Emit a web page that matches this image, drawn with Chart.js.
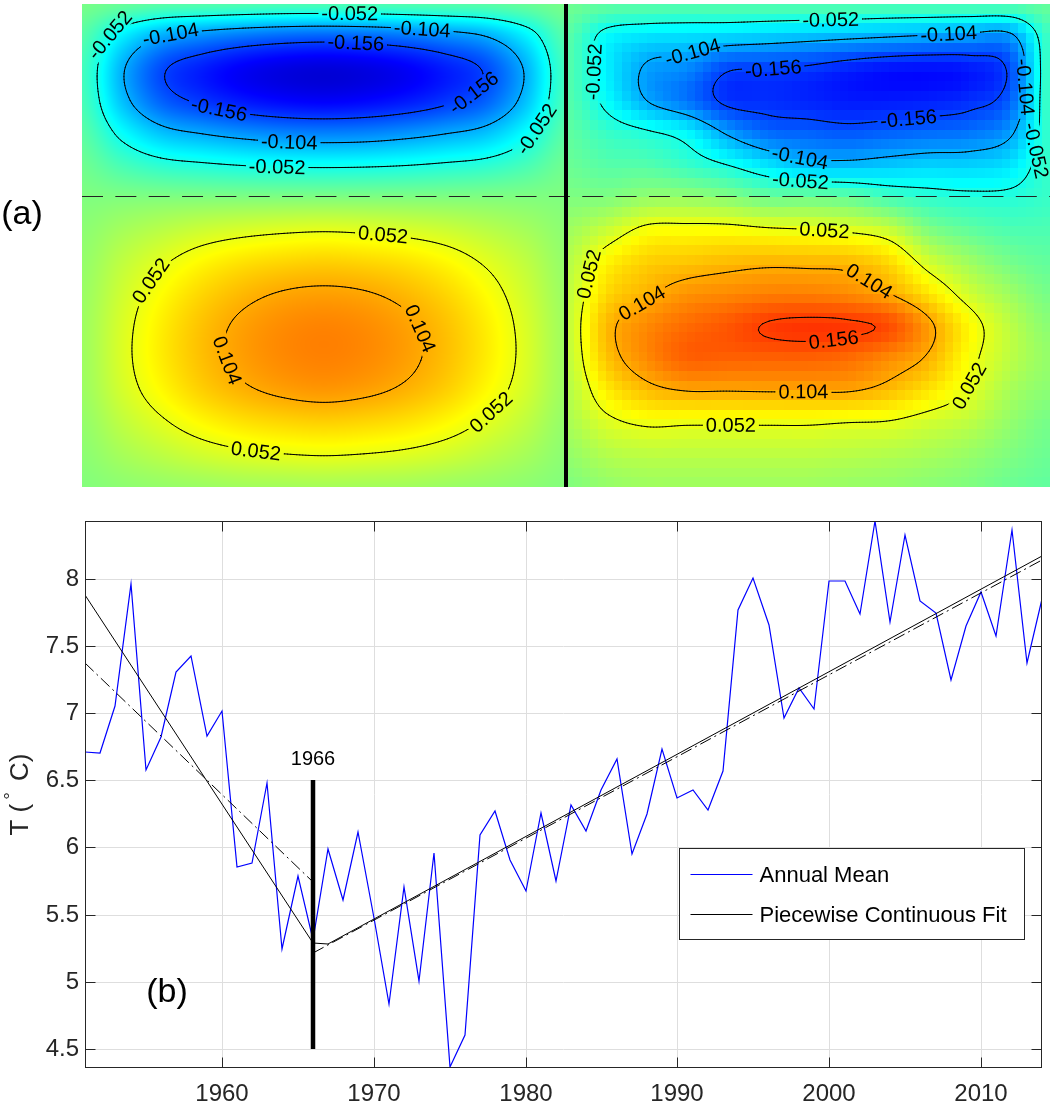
<!DOCTYPE html>
<html>
<head>
<meta charset="utf-8">
<script src="https://cdn.jsdelivr.net/npm/chart.js@4.4.1/dist/chart.umd.min.js"></script>
<style>
  body { margin: 0; background: #fff; width: 1050px; height: 1105px; overflow: hidden; position: relative; }
  #mapBox { position: absolute; left: 0; top: 0; width: 1050px; height: 495px; }
  #tempBox { position: absolute; left: 0; top: 495px; width: 1050px; height: 610px; }
  canvas { display: block; }
</style>
</head>
<body>
<div id="mapBox"><canvas id="mapChart" width="1050" height="495"></canvas></div>
<div id="tempBox"><canvas id="tempChart" width="1050" height="610"></canvas></div>
<script>
// ---- panel (b) data ----
const years = [1951, 1952, 1953, 1954, 1955, 1956, 1957, 1958, 1959, 1960,
  1961, 1962, 1963, 1964, 1965, 1966, 1967, 1968, 1969, 1970,
  1971, 1972, 1973, 1974, 1975, 1976, 1977, 1978, 1979, 1980,
  1981, 1982, 1983, 1984, 1985, 1986, 1987, 1988, 1989, 1990,
  1991, 1992, 1993, 1994, 1995, 1996, 1997, 1998, 1999, 2000,
  2001, 2002, 2003, 2004, 2005, 2006, 2007, 2008, 2009, 2010,
  2011, 2012, 2013, 2014];
const annualMean = [6.71, 6.70, 7.05, 7.96, 6.575, 6.82, 7.305, 7.427, 6.83, 7.013,
  5.854, 5.887, 6.476, 5.245, 5.787, 5.312, 5.986, 5.609, 6.112, 5.473,
  4.836, 5.708, 5.007, 5.956, 4.363, 4.601, 6.092, 6.27, 5.906, 5.676,
  6.258, 5.753, 6.315, 6.122, 6.43, 6.655, 5.949, 6.248, 6.729, 6.365,
  6.427, 6.28, 6.57, 7.764, 8.007, 7.652, 6.966, 7.187, 7.028, 7.979,
  7.984, 7.734, 8.427, 7.675, 8.321, 7.833, 7.747, 7.244, 7.645, 7.90,
  7.571, 8.363, 7.368, 7.851];
const fitYears = [1951, 1966, 1967, 2014];
const fitTemps = [7.88, 5.29, 5.28, 8.17];
const trendLeftYears = [1951, 1966];
const trendLeftTemps = [7.375, 5.74];
const trendRightYears = [1966, 2014];
const trendRightTemps = [5.215, 8.135];
const breakYear = 1966;
const breakTemps = [4.5, 6.5];
const xTickYears = [1960, 1970, 1980, 1990, 2000, 2010];
const yTickTemps = [4.5, 5, 5.5, 6, 6.5, 7, 7.5, 8];

// ---- panel (a) data: field values on a 13 x 16 grid per half ----
const leftField = [
  [-0.004, -0.012, -0.019, -0.021, -0.023, -0.025, -0.025, -0.025, -0.023, -0.021, -0.019, -0.012, -0.004],
  [-0.020, -0.069, -0.104, -0.119, -0.130, -0.137, -0.140, -0.137, -0.130, -0.119, -0.104, -0.069, -0.020],
  [-0.029, -0.100, -0.152, -0.174, -0.191, -0.201, -0.205, -0.201, -0.191, -0.174, -0.152, -0.100, -0.029],
  [-0.027, -0.093, -0.141, -0.162, -0.177, -0.186, -0.190, -0.186, -0.177, -0.162, -0.141, -0.093, -0.027],
  [-0.018, -0.061, -0.093, -0.106, -0.116, -0.123, -0.125, -0.123, -0.116, -0.106, -0.093, -0.061, -0.018],
  [-0.008, -0.028, -0.042, -0.048, -0.053, -0.056, -0.057, -0.056, -0.053, -0.048, -0.042, -0.028, -0.008],
  [0, 0, 0, 0, 0, 0, 0, 0, 0, 0, 0, 0, 0],
  [0.006, 0.018, 0.028, 0.037, 0.043, 0.047, 0.049, 0.047, 0.043, 0.037, 0.028, 0.018, 0.006],
  [0.010, 0.031, 0.049, 0.065, 0.076, 0.082, 0.085, 0.082, 0.076, 0.065, 0.049, 0.031, 0.010],
  [0.013, 0.039, 0.063, 0.083, 0.097, 0.106, 0.109, 0.106, 0.097, 0.083, 0.063, 0.039, 0.013],
  [0.015, 0.044, 0.071, 0.093, 0.109, 0.119, 0.123, 0.119, 0.109, 0.093, 0.071, 0.044, 0.015],
  [0.015, 0.045, 0.072, 0.094, 0.110, 0.120, 0.124, 0.120, 0.110, 0.094, 0.072, 0.045, 0.015],
  [0.014, 0.041, 0.065, 0.086, 0.100, 0.109, 0.113, 0.109, 0.100, 0.086, 0.065, 0.041, 0.014],
  [0.010, 0.031, 0.049, 0.065, 0.076, 0.082, 0.085, 0.082, 0.076, 0.065, 0.049, 0.031, 0.010],
  [0.006, 0.019, 0.030, 0.040, 0.047, 0.051, 0.053, 0.051, 0.047, 0.040, 0.030, 0.019, 0.006],
  [0.002, 0.007, 0.011, 0.014, 0.017, 0.018, 0.019, 0.018, 0.017, 0.014, 0.011, 0.007, 0.002]
];
const rightField = [
  [-0.008, -0.015, -0.018, -0.020, -0.020, -0.020, -0.020, -0.020, -0.022, -0.022, -0.022, -0.020, -0.012],
  [-0.018, -0.062, -0.075, -0.078, -0.082, -0.087, -0.092, -0.097, -0.102, -0.107, -0.112, -0.112, -0.030],
  [-0.020, -0.068, -0.108, -0.120, -0.152, -0.155, -0.160, -0.170, -0.178, -0.180, -0.175, -0.150, -0.030],
  [-0.020, -0.060, -0.104, -0.130, -0.162, -0.165, -0.170, -0.175, -0.175, -0.172, -0.165, -0.140, -0.030],
  [-0.015, -0.035, -0.048, -0.065, -0.108, -0.135, -0.140, -0.145, -0.140, -0.135, -0.130, -0.110, -0.035],
  [-0.010, -0.020, -0.022, -0.035, -0.052, -0.075, -0.093, -0.095, -0.090, -0.085, -0.085, -0.075, -0.035],
  [0.000, 0.000, 0.010, 0.010, 0.003, -0.010, -0.010, -0.015, -0.030, -0.040, -0.045, -0.045, -0.035],
  [0.015, 0.035, 0.058, 0.060, 0.060, 0.055, 0.052, 0.047, 0.035, 0.000, -0.015, -0.025, -0.025],
  [0.025, 0.065, 0.085, 0.090, 0.095, 0.098, 0.097, 0.095, 0.080, 0.040, 0.015, -0.005, -0.015],
  [0.030, 0.080, 0.100, 0.115, 0.120, 0.125, 0.125, 0.120, 0.105, 0.075, 0.040, 0.015, -0.005],
  [0.032, 0.095, 0.120, 0.135, 0.145, 0.158, 0.162, 0.160, 0.150, 0.110, 0.065, 0.030, 0.005],
  [0.030, 0.090, 0.120, 0.140, 0.140, 0.140, 0.140, 0.135, 0.120, 0.100, 0.060, 0.030, 0.010],
  [0.025, 0.070, 0.095, 0.105, 0.105, 0.106, 0.106, 0.106, 0.095, 0.075, 0.050, 0.020, 0.005],
  [0.020, 0.045, 0.056, 0.055, 0.055, 0.055, 0.055, 0.052, 0.050, 0.040, 0.030, 0.010, -0.005],
  [0.010, 0.025, 0.030, 0.030, 0.030, 0.030, 0.030, 0.028, 0.025, 0.020, 0.012, 0.000, -0.010],
  [0.000, 0.010, 0.015, 0.015, 0.015, 0.015, 0.015, 0.012, 0.010, 0.005, 0.000, -0.010, -0.015]
];
const contourLevels = [-0.156, -0.104, -0.052, 0.052, 0.104, 0.156];
const colorRange = [-0.25, 0.25];
const splitRow = 0.3975;   // dashed line
// contour labels: level, approx x, approx y (panel units)
const contourLabels = [
  [-0.052, 0.554, 0.018], [-0.052, 0.051, 0.061], [-0.052, 0.919, 0.247], [-0.052, 0.402, 0.333],
  [-0.104, 0.182, 0.050], [-0.104, 0.705, 0.046], [-0.104, 0.430, 0.285],
  [-0.156, 0.568, 0.078], [-0.156, 0.795, 0.164], [-0.156, 0.285, 0.213],
  [-0.052, 1.545, 0.040], [-0.052, 1.063, 0.143], [-0.052, 1.483, 0.364], [-0.052, 1.959, 0.302],
  [-0.104, 1.263, 0.109], [-0.104, 1.793, 0.061], [-0.104, 1.952, 0.171], [-0.104, 1.483, 0.323],
  [-0.156, 1.428, 0.137], [-0.156, 1.707, 0.240],
  [0.052, 0.619, 0.475], [0.052, 0.147, 0.578], [0.052, 0.361, 0.934], [0.052, 0.870, 0.875],
  [0.104, 0.299, 0.737], [0.104, 0.692, 0.675],
  [0.052, 1.532, 0.473], [0.052, 1.063, 0.565], [0.052, 1.339, 0.872], [0.052, 1.842, 0.792],
  [0.104, 1.153, 0.613], [0.104, 1.621, 0.582], [0.104, 1.490, 0.803],
  [0.156, 1.552, 0.682]
];

const FONT = '"Liberation Sans", Arial, Helvetica, sans-serif';
Chart.defaults.font.family = FONT;

function crWeights(t) {
  const t2 = t * t, t3 = t2 * t;
  return [(-t3 + 2 * t2 - t) / 2, (3 * t3 - 5 * t2 + 2) / 2, (-3 * t3 + 4 * t2 + t) / 2, (t3 - t2) / 2];
}
function clampIdx(i, n) { return i < 0 ? 0 : (i > n - 1 ? n - 1 : i); }
function sampleGrid(grid, u, v) {
  const nr = grid.length, nc = grid[0].length;
  const gx = Math.min(Math.max(u, 0), 1) * (nc - 1);
  const gy = Math.min(Math.max(v, 0), 1) * (nr - 1);
  let ix = Math.min(Math.floor(gx), nc - 2), iy = Math.min(Math.floor(gy), nr - 2);
  const wx = crWeights(gx - ix), wy = crWeights(gy - iy);
  let s = 0;
  for (let m = 0; m < 4; m++) {
    const row = grid[clampIdx(iy + m - 1, nr)];
    let rs = 0;
    for (let n = 0; n < 4; n++) rs += row[clampIdx(ix + n - 1, nc)] * wx[n];
    s += rs * wy[m];
  }
  return s;
}
function fieldValue(xv, yv) {
  return xv < 1 ? sampleGrid(leftField, xv, yv) : sampleGrid(rightField, xv - 1, yv);
}
function jet(v) {
  let t = (v - colorRange[0]) / (colorRange[1] - colorRange[0]);
  t = Math.min(1, Math.max(0, t));
  const c = k => Math.min(1, Math.max(0, 1.5 - Math.abs(4 * t - k)));
  return [c(3) * 255, c(2) * 255, c(1) * 255];
}

// marching squares on a sampled half
function traceLevel(samples, nx, ny, x0, x1, level) {
  const segs = [];
  const X = i => x0 + (x1 - x0) * i / nx, Y = j => j / ny;
  for (let j = 0; j < ny; j++) {
    for (let i = 0; i < nx; i++) {
      const a = samples[j][i], b = samples[j][i + 1], c = samples[j + 1][i + 1], d = samples[j + 1][i];
      const idx = (a > level ? 8 : 0) | (b > level ? 4 : 0) | (c > level ? 2 : 0) | (d > level ? 1 : 0);
      if (idx === 0 || idx === 15) continue;
      const T = [X(i + (level - a) / (b - a)), Y(j)];
      const R = [X(i + 1), Y(j + (level - b) / (c - b))];
      const B = [X(i + (level - d) / (c - d)), Y(j + 1)];
      const L = [X(i), Y(j + (level - a) / (d - a))];
      const mid = (a + b + c + d) / 4 > level;
      switch (idx) {
        case 1: case 14: segs.push([L, B]); break;
        case 2: case 13: segs.push([B, R]); break;
        case 3: case 12: segs.push([L, R]); break;
        case 4: case 11: segs.push([T, R]); break;
        case 6: case 9: segs.push([T, B]); break;
        case 7: case 8: segs.push([T, L]); break;
        case 5: if (mid) segs.push([T, L], [B, R]); else segs.push([T, R], [L, B]); break;
        case 10: if (mid) segs.push([T, R], [L, B]); else segs.push([T, L], [B, R]); break;
      }
    }
  }
  return segs;
}

const fieldPlugin = {
  id: 'fieldPlugin',
  beforeDatasetsDraw(chart) {
    const { ctx, chartArea: a, scales: { x, y } } = chart;
    const w = Math.round(a.right - a.left), h = Math.round(a.bottom - a.top);
    // colour image
    const off = document.createElement('canvas');
    off.width = w; off.height = h;
    const octx = off.getContext('2d');
    const img = octx.createImageData(w, h);
    for (let j = 0; j < h; j++) {
      const yv = y.getValueForPixel(a.top + j + 0.5);
      for (let i = 0; i < w; i++) {
        const xv = x.getValueForPixel(a.left + i + 0.5);
        let v;
        if (xv < 1) v = sampleGrid(leftField, xv, yv);
        else {
          const uq = (Math.floor((xv - 1) * 60) + 0.5) / 60;
          const vq = (Math.floor(yv * 50) + 0.5) / 50;
          v = sampleGrid(rightField, uq, vq);
        }
        const col = jet(v), k = (j * w + i) * 4;
        img.data[k] = col[0]; img.data[k + 1] = col[1]; img.data[k + 2] = col[2]; img.data[k + 3] = 255;
      }
    }
    octx.putImageData(img, 0, 0);
    ctx.drawImage(off, a.left, a.top);

    // contour segments (pixel space)
    const nx = 160, ny = 160;
    const byLevel = new Map(contourLevels.map(l => [l, []]));
    [[0, 1, leftField], [1, 2, rightField]].forEach(([x0, x1, grid]) => {
      const samples = [];
      for (let j = 0; j <= ny; j++) {
        const row = [];
        for (let i = 0; i <= nx; i++) row.push(sampleGrid(grid, i / nx, j / ny));
        samples.push(row);
      }
      contourLevels.forEach(l => {
        traceLevel(samples, nx, ny, x0, x1, l).forEach(s => {
          byLevel.get(l).push(s.map(p => [x.getPixelForValue(p[0]), y.getPixelForValue(p[1])]));
        });
      });
    });

    // label placement
    ctx.save();
    ctx.font = '20px ' + FONT;
    const fAt = (px, py) => fieldValue(x.getValueForPixel(px), y.getValueForPixel(py));
    const placed = contourLabels.map(([lev, lx, ly]) => {
      const tx = x.getPixelForValue(lx), ty = y.getPixelForValue(ly);
      let best = null, bd = Infinity;
      byLevel.get(lev).forEach(s => {
        const mx = (s[0][0] + s[1][0]) / 2, my = (s[0][1] + s[1][1]) / 2;
        const dd = (mx - tx) ** 2 + (my - ty) ** 2;
        if (dd < bd) { bd = dd; best = [mx, my]; }
      });
      if (!best) best = [tx, ty];
      const gx = fAt(best[0] + 3, best[1]) - fAt(best[0] - 3, best[1]);
      const gy = fAt(best[0], best[1] + 3) - fAt(best[0], best[1] - 3);
      let ang = Math.atan2(gx, -gy);
      if (ang > Math.PI / 2) ang -= Math.PI;
      if (ang < -Math.PI / 2) ang += Math.PI;
      // near-vertical labels: read upward on the left side of a loop, downward on the right side
      if (Math.abs(ang) > 1.3) ang = Math.sign(lev) * gx > 0 ? -Math.abs(ang) : Math.abs(ang);
      const text = lev.toFixed(3);
      return { x: best[0], y: best[1], ang, text, w: ctx.measureText(text).width };
    });
    ctx.restore();

    // contour lines with gaps under labels
    ctx.save();
    ctx.beginPath();
    ctx.rect(a.left, a.top, a.right - a.left, a.bottom - a.top);
    placed.forEach(p => {
      const hw = p.w / 2 + 3, hh = 9, c = Math.cos(p.ang), s = Math.sin(p.ang);
      const pts = [[-hw, -hh], [hw, -hh], [hw, hh], [-hw, hh]].map(([u, v]) => [p.x + u * c - v * s, p.y + u * s + v * c]);
      ctx.moveTo(pts[0][0], pts[0][1]);
      for (let q = 1; q < 4; q++) ctx.lineTo(pts[q][0], pts[q][1]);
      ctx.closePath();
    });
    ctx.clip('evenodd');
    ctx.strokeStyle = '#000';
    ctx.lineWidth = 1;
    ctx.lineCap = 'round';
    ctx.beginPath();
    byLevel.forEach(list => list.forEach(s => { ctx.moveTo(s[0][0], s[0][1]); ctx.lineTo(s[1][0], s[1][1]); }));
    ctx.stroke();
    ctx.restore();

    // label text
    ctx.save();
    ctx.fillStyle = '#000';
    ctx.font = '20px ' + FONT;
    ctx.textAlign = 'center';
    ctx.textBaseline = 'middle';
    placed.forEach(p => {
      ctx.save();
      ctx.translate(p.x, p.y);
      ctx.rotate(p.ang);
      ctx.fillText(p.text, 0, 1);
      ctx.restore();
    });
    ctx.restore();

    // dashed split line and vertical divider
    ctx.save();
    ctx.strokeStyle = '#222';
    ctx.lineWidth = 1;
    ctx.setLineDash([21, 12.35]);
    const yd = Math.round(y.getPixelForValue(splitRow)) + 0.5;
    ctx.beginPath();
    ctx.moveTo(x.getPixelForValue(0), yd);
    ctx.lineTo(x.getPixelForValue(2), yd);
    ctx.stroke();
    ctx.setLineDash([]);
    ctx.lineWidth = 4;
    ctx.strokeStyle = '#000';
    const xm = x.getPixelForValue(1);
    ctx.beginPath();
    ctx.moveTo(xm, a.top);
    ctx.lineTo(xm, a.bottom);
    ctx.stroke();
    // panel tag
    ctx.fillStyle = '#000';
    ctx.font = '34px ' + FONT;
    ctx.textAlign = 'center';
    ctx.textBaseline = 'middle';
    ctx.fillText('(a)', 22, 215);
    ctx.restore();
  }
};

new Chart(document.getElementById('mapChart'), {
  type: 'scatter',
  data: { datasets: [{ data: [] }] },
  options: {
    responsive: false,
    animation: false,
    layout: { padding: { left: 82, top: 4, right: 0, bottom: 8 } },
    scales: {
      x: { type: 'linear', min: 0, max: 2, display: false },
      y: { type: 'linear', min: 0, max: 1, reverse: true, display: false }
    },
    plugins: { legend: { display: false }, tooltip: { enabled: false } }
  },
  plugins: [fieldPlugin]
});

// ---- panel (b) ----
const toPoints = (xs, ys) => xs.map((v, i) => ({ x: v, y: ys[i] }));
const AXIS = '#262626';

const framePlugin = {
  id: 'framePlugin',
  afterDraw(chart) {
    const { ctx, chartArea: a, scales: { x, y } } = chart;
    const L = Math.round(a.left) + 0.5, R = Math.round(a.right) - 0.5;
    const T = Math.round(a.top) + 0.5, B = Math.round(a.bottom) - 0.5;
    ctx.save();
    ctx.strokeStyle = AXIS;
    ctx.lineWidth = 1;
    ctx.strokeRect(L, T, R - L, B - T);
    ctx.beginPath();
    xTickYears.forEach(v => {
      const px = Math.round(x.getPixelForValue(v)) + 0.5;
      ctx.moveTo(px, B); ctx.lineTo(px, B - 10);
      ctx.moveTo(px, T); ctx.lineTo(px, T + 10);
    });
    yTickTemps.forEach(v => {
      const py = Math.round(y.getPixelForValue(v)) + 0.5;
      ctx.moveTo(L, py); ctx.lineTo(L + 10, py);
      ctx.moveTo(R, py); ctx.lineTo(R - 10, py);
    });
    ctx.stroke();

    // break year label
    ctx.fillStyle = '#000';
    ctx.font = '20px ' + FONT;
    ctx.textAlign = 'center';
    ctx.textBaseline = 'alphabetic';
    ctx.fillText(String(breakYear), x.getPixelForValue(breakYear), y.getPixelForValue(breakTemps[1]) - 15);

    // panel tag
    ctx.font = '34px ' + FONT;
    ctx.textBaseline = 'middle';
    ctx.fillText('(b)', x.getPixelForValue(1956.43), y.getPixelForValue(4.918));

    // y axis title
    ctx.save();
    ctx.translate(21, (a.top + a.bottom) / 2);
    ctx.rotate(-Math.PI / 2);
    ctx.fillStyle = AXIS;
    ctx.textAlign = 'left';
    ctx.textBaseline = 'middle';
    const big = '26px ' + FONT, small = '19px ' + FONT;
    ctx.font = big; const w1 = ctx.measureText('T (').width, w3 = ctx.measureText(' C)').width;
    ctx.font = small; const w2 = ctx.measureText('\u00B0').width + 8;
    let sx = -(w1 + w2 + w3) / 2;
    ctx.font = big; ctx.fillText('T (', sx, 0); sx += w1;
    ctx.font = small; ctx.fillText('\u00B0', sx + 4, -9); sx += w2;
    ctx.font = big; ctx.fillText(' C)', sx, 0);
    ctx.restore();

    // legend
    const lx = Math.round(a.right) - 363 + 0.5, ly = Math.round(a.top) + 327 + 0.5;
    ctx.fillStyle = '#fff';
    ctx.fillRect(lx, ly, 345, 91);
    ctx.strokeStyle = AXIS;
    ctx.lineWidth = 1;
    ctx.strokeRect(lx, ly, 345, 91);
    ctx.lineWidth = 1.2;
    ctx.strokeStyle = '#0000ff';
    ctx.beginPath(); ctx.moveTo(lx + 11, ly + 26); ctx.lineTo(lx + 73, ly + 26); ctx.stroke();
    ctx.strokeStyle = '#000';
    ctx.lineWidth = 1;
    ctx.beginPath(); ctx.moveTo(lx + 11, ly + 66); ctx.lineTo(lx + 73, ly + 66); ctx.stroke();
    ctx.fillStyle = '#000';
    ctx.font = '22px ' + FONT;
    ctx.textAlign = 'left';
    ctx.textBaseline = 'middle';
    ctx.fillText('Annual Mean', lx + 80, ly + 27);
    ctx.fillText('Piecewise Continuous Fit', lx + 80, ly + 67);
    ctx.restore();
  }
};

new Chart(document.getElementById('tempChart'), {
  type: 'line',
  data: {
    datasets: [
      { label: 'Annual Mean', data: toPoints(years, annualMean), borderColor: '#0000ff', borderWidth: 1.2, pointRadius: 0, tension: 0, order: 4 },
      { label: 'Piecewise Continuous Fit', data: toPoints(fitYears, fitTemps), borderColor: '#000', borderWidth: 1, pointRadius: 0, order: 2 },
      { label: 'trend left', data: toPoints(trendLeftYears, trendLeftTemps), borderColor: '#000', borderWidth: 1, borderDash: [12, 4, 2, 4], pointRadius: 0, order: 3 },
      { label: 'trend right', data: toPoints(trendRightYears, trendRightTemps), borderColor: '#000', borderWidth: 1, borderDash: [12, 4, 2, 4], pointRadius: 0, order: 3 },
      { label: 'break', data: breakTemps.map(v => ({ x: breakYear, y: v })), borderColor: '#000', borderWidth: 4.5, pointRadius: 0, order: 1 }
    ]
  },
  options: {
    responsive: false,
    animation: false,
    layout: { padding: { left: 0, top: 26, right: 8, bottom: 0 } },
    scales: {
      x: {
        type: 'linear', min: 1951, max: 2014, alignToPixels: true,
        afterFit: s => { s.height = 37; },
        afterBuildTicks: s => { s.ticks = xTickYears.map(v => ({ value: v })); },
        grid: { color: '#dedede', drawTicks: false },
        border: { display: false },
        ticks: { color: AXIS, font: { size: 24 }, padding: 12, maxRotation: 0, autoSkip: false, callback: v => String(v) }
      },
      y: {
        type: 'linear', min: 4.359, max: 8.428, alignToPixels: true,
        afterFit: s => { s.width = 85; },
        afterBuildTicks: s => { s.ticks = yTickTemps.map(v => ({ value: v })); },
        grid: { color: '#dedede', drawTicks: false },
        border: { display: false },
        ticks: { color: AXIS, font: { size: 24 }, padding: 6, autoSkip: false, callback: v => String(v) }
      }
    },
    plugins: { legend: { display: false }, tooltip: { enabled: false } }
  },
  plugins: [framePlugin]
});
</script>
</body>
</html>
